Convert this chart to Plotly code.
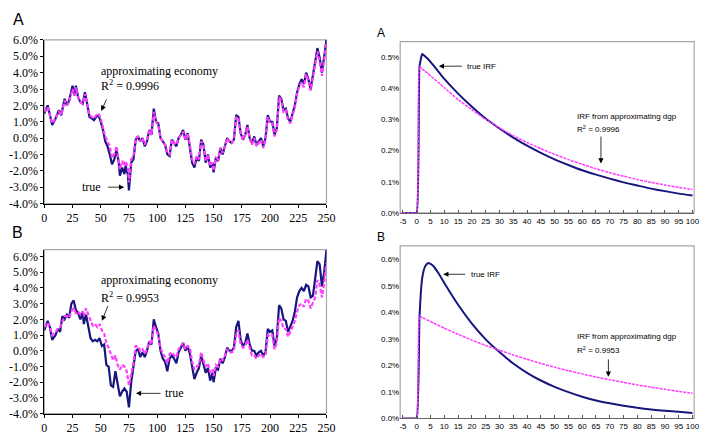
import plotly.graph_objects as go

# ---------------------------------------------------------------------------
# Simulated series (percent), panel A: true economy vs approximating economy
# ---------------------------------------------------------------------------
t_a = [0, 3, 7, 10, 13, 15, 18, 20, 22, 25,
       27, 28, 30, 32, 34, 36, 38, 40, 42, 44,
       46, 48, 50, 52, 54, 56, 58, 60, 62, 64,
       66, 67, 69, 71, 72, 74, 75, 77, 79, 81,
       83, 85, 87, 89, 91, 93, 95, 97, 99, 101,
       103, 105, 107, 109, 111, 113, 115, 117, 119, 121,
       123, 125, 127, 129, 131, 133, 135, 137, 139, 141,
       143, 145, 147, 149, 150, 152, 154, 156, 158, 160,
       162, 164, 166, 168, 170, 172, 174, 176, 178, 180,
       182, 184, 186, 188, 190, 192, 194, 196, 198, 200,
       202, 204, 206, 208, 210, 212, 214, 216, 218, 220,
       222, 224, 226, 228, 230, 232, 234, 236, 238, 240,
       242, 244, 246, 248, 250]
true_a = [1.5, 2.0, 0.8, 1.2, 1.7, 1.4, 2.4, 2.0, 2.3, 3.2,
          2.6, 3.2, 2.5, 2.2, 2.1, 2.8, 2.1, 1.3, 1.2, 1.1,
          1.3, 1.4, 1.0, 0.5, -0.2, -0.5, -1.0, -1.6, -1.3, -0.7,
          -1.5, -2.3, -1.8, -2.2, -1.7, -2.2, -3.2, -1.5, -1.3, -0.1,
          0.1, -0.2, 0.0, -0.5, -0.2, 0.5, 0.2, 1.8, 1.0, 0.9,
          0.0, -0.2, -0.4, -1.0, -1.1, -0.1, -0.3, -0.5, 0.0, 0.2,
          0.5, -0.1, 0.3, -0.5, -1.5, -1.8, -1.2, -1.4, -0.1, -0.4,
          -1.5, -1.0, -1.8, -1.5, -2.1, -1.2, -1.4, -0.6, -1.0, -0.5,
          0.0, -0.2, -0.3, -0.1, 1.4, 1.3, 0.3, -0.1, 0.2, 0.8,
          0.0, -0.3, 0.1, -0.4, -0.2, 0.0, -0.5, 0.0, 1.4, 1.0,
          1.0, 0.2, 0.6, 2.6, 2.4, 1.7, 1.8, 1.2, 1.0, 1.5,
          2.0, 2.8, 3.3, 3.6, 3.3, 4.0, 3.6, 3.0, 3.8, 4.8,
          5.5, 4.9, 4.0, 5.0, 6.0]
approx_a = [1.6, 1.9, 0.9, 1.2, 1.6, 1.4, 2.3, 2.0, 2.2, 3.0,
            2.6, 3.1, 2.5, 2.2, 2.1, 2.7, 2.1, 1.4, 1.3, 1.2,
            1.4, 1.5, 1.2, 0.7, 0.1, -0.2, -0.5, -1.2, -1.0, -0.5,
            -1.3, -1.9, -1.4, -1.7, -1.4, -1.8, -2.7, -1.3, -1.1, 0.0,
            0.1, -0.2, 0.0, -0.4, -0.1, 0.5, 0.2, 1.6, 1.0, 0.8,
            0.0, -0.2, -0.4, -0.9, -1.0, -0.1, -0.3, -0.4, 0.0, 0.2,
            0.4, -0.1, 0.3, -0.4, -1.3, -1.6, -1.1, -1.3, -0.2, -0.4,
            -1.4, -1.0, -1.7, -1.5, -2.0, -1.2, -1.3, -0.6, -0.9, -0.5,
            0.0, -0.2, -0.3, -0.1, 1.3, 1.2, 0.3, -0.1, 0.2, 0.7,
            0.0, -0.4, 0.0, -0.5, -0.3, -0.1, -0.6, -0.1, 1.3, 0.9,
            0.9, 0.1, 0.5, 2.5, 2.3, 1.6, 1.7, 1.1, 0.9, 1.4,
            1.9, 2.7, 3.2, 3.4, 3.1, 3.9, 3.5, 2.9, 3.7, 4.6,
            5.3, 4.7, 3.8, 4.8, 5.8]

# ---------------------------------------------------------------------------
# Simulated series (percent), panel B
# ---------------------------------------------------------------------------
t_b = [0, 3, 5, 7, 10, 12, 14, 16, 18, 20,
       22, 24, 26, 28, 30, 32, 34, 35, 37, 39,
       41, 43, 45, 47, 49, 51, 53, 55, 57, 59,
       61, 63, 65, 67, 69, 71, 73, 75, 77, 79,
       81, 83, 85, 87, 89, 91, 93, 95, 97, 99,
       101, 103, 105, 107, 109, 111, 113, 115, 117, 119,
       121, 123, 125, 127, 129, 131, 133, 135, 137, 139,
       141, 143, 145, 147, 149, 150, 152, 154, 156, 158,
       160, 162, 164, 166, 168, 170, 172, 174, 176, 178,
       180, 182, 184, 186, 188, 190, 192, 194, 196, 198,
       200, 202, 204, 206, 208, 210, 212, 214, 216, 218,
       220, 222, 224, 226, 228, 230, 232, 234, 236, 238,
       240, 242, 244, 246, 248, 250]
true_b = [1.3, 1.9, 1.5, 0.7, 1.0, 1.4, 1.2, 2.2, 2.0, 2.3,
          2.1, 3.0, 3.2, 2.6, 2.4, 2.0, 2.5, 1.7, 2.3, 1.5,
          0.8, 0.6, 0.7, 0.6, 0.8, 0.3, 0.4, -0.9, -1.0, -2.2,
          -2.3, -1.3, -2.2, -2.9, -2.6, -2.4, -2.6, -3.6, -2.0, -1.0,
          0.0, 0.1, -0.4, -0.1, -0.4, 0.0, 0.6, 0.4, 2.0, 1.5,
          1.1, 0.0, -0.5, -0.7, -1.3, -0.5, -0.3, -0.5, -0.8, -0.1,
          0.2, 0.5, 0.0, 0.3, -0.2, -1.1, -1.8, -1.4, -1.1, -0.3,
          -0.9, -1.4, -1.1, -1.9, -1.4, -2.0, -1.1, -1.2, -0.5, -0.8,
          -0.4, 0.2, 0.0, 0.0, 0.2, 1.5, 1.9, 0.7, 0.3, 0.5,
          1.1, 0.4, 0.0, 0.0, -0.3, -0.1, 0.0, -0.3, -0.1, 1.4,
          1.2, 1.3, 0.3, 0.8, 2.9, 2.7, 2.0, 1.9, 1.2, 1.6,
          1.9, 2.5, 3.4, 3.8, 4.0, 3.8, 4.2, 4.1, 3.4, 3.5,
          4.5, 5.7, 5.5, 4.1, 5.0, 6.4]
approx_b = [1.5, 1.8, 1.5, 1.0, 1.2, 1.4, 1.5, 1.9, 2.2, 2.2,
            2.1, 2.5, 2.7, 2.4, 2.5, 2.3, 2.5, 2.2, 2.7, 2.3,
            2.0, 1.6, 1.7, 1.5, 1.7, 1.3, 1.1, 0.5, 0.2, -0.2,
            -0.6, -0.3, -0.9, -1.2, -0.9, -1.0, -1.3, -2.2, -1.5, -0.8,
            0.3, 0.3, 0.0, 0.1, -0.2, 0.1, 0.6, 0.4, 1.6, 1.3,
            1.0, 0.2, -0.2, -0.4, -0.8, -0.2, -0.1, -0.3, -0.4, 0.1,
            0.3, 0.5, 0.1, 0.3, 0.2, -0.7, -1.2, -1.0, -0.9, -0.1,
            -0.6, -1.0, -0.8, -1.4, -1.2, -1.6, -0.9, -1.0, -0.5, -0.6,
            -0.3, 0.1, -0.1, -0.1, 0.0, 1.0, 1.3, 0.4, 0.2, 0.3,
            0.7, 0.1, -0.3, -0.3, -0.5, -0.3, -0.2, -0.4, -0.3, 1.0,
            0.9, 1.0, 0.1, 0.5, 2.1, 1.9, 1.4, 1.4, 0.9, 1.2,
            1.5, 1.9, 2.5, 2.9, 3.0, 2.8, 3.3, 3.2, 2.7, 3.0,
            3.4, 4.5, 4.2, 3.4, 4.3, 5.6]

# ---------------------------------------------------------------------------
# Impulse responses (percent) by horizon
# ---------------------------------------------------------------------------
h_irf = [-5, -4, -3, -2, -1, 0, 1, 2, 3, 4, 5, 6, 8, 10,
         15, 20, 25, 30, 35, 40, 45, 50, 55, 60, 65, 70,
         75, 80, 85, 90, 95, 100]
irf_true_a = [0, 0, 0, 0, 0, 0, 0.47, 0.51, 0.503, 0.495, 0.485, 0.474, 0.452, 0.43,
              0.383, 0.341, 0.303, 0.271, 0.242, 0.216, 0.193, 0.172, 0.154, 0.137, 0.123, 0.11,
              0.098, 0.088, 0.078, 0.07, 0.062, 0.056]
irf_approx_a = [0, 0, 0, 0, 0, 0, 0.47, 0.462, 0.455, 0.448, 0.44, 0.432, 0.418, 0.402,
                0.364, 0.331, 0.3, 0.273, 0.248, 0.226, 0.206, 0.188, 0.171, 0.156, 0.142, 0.129,
                0.118, 0.107, 0.098, 0.09, 0.082, 0.075]
irf_true_b = [0, 0, 0, 0, 0, 0, 0.38, 0.53, 0.572, 0.585, 0.582, 0.574, 0.545, 0.51,
              0.428, 0.357, 0.298, 0.25, 0.207, 0.172, 0.143, 0.119, 0.099, 0.082, 0.068, 0.057,
              0.048, 0.04, 0.034, 0.029, 0.025, 0.021]
irf_approx_b = [0, 0, 0, 0, 0, 0, 0.385, 0.38, 0.375, 0.37, 0.365, 0.36, 0.35, 0.34,
                0.317, 0.295, 0.275, 0.257, 0.239, 0.223, 0.207, 0.193, 0.18, 0.168, 0.156, 0.146,
                0.136, 0.126, 0.118, 0.11, 0.102, 0.095]

# Axis ticks
ts_ticks = list(range(0, 251, 25))
ts_yticks = [-4, -3, -2, -1, 0, 1, 2, 3, 4, 5, 6]
irf_xticks = list(range(-5, 101, 5))
irf_yticks_a = [0, 0.1, 0.2, 0.3, 0.4, 0.5]
irf_yticks_b = [0, 0.1, 0.2, 0.3, 0.4, 0.5, 0.6]

NAVY = "#16167e"
PINK = "#ff3cff"
FRAME = "#a6a6a6"
SERIF = "Liberation Serif, Times New Roman, serif"
SANS = "Liberation Sans, Arial, sans-serif"

W, H = 712, 440


def px_x(a, b):
    return [a / W, b / W]


def px_y(top, bottom):
    return [1 - bottom / H, 1 - top / H]


fig = go.Figure()

# left panels: time series
fig.add_trace(go.Scatter(x=t_a, y=true_a, mode="lines", xaxis="x", yaxis="y",
                         line=dict(color=NAVY, width=2.2)))
fig.add_trace(go.Scatter(x=t_a, y=approx_a, mode="lines", xaxis="x", yaxis="y",
                         line=dict(color=PINK, width=2.2, dash="4px,2px")))
fig.add_trace(go.Scatter(x=t_b, y=true_b, mode="lines", xaxis="x3", yaxis="y3",
                         line=dict(color=NAVY, width=2.2)))
fig.add_trace(go.Scatter(x=t_b, y=approx_b, mode="lines", xaxis="x3", yaxis="y3",
                         line=dict(color=PINK, width=2.2, dash="4px,2px")))

# right panels: impulse responses
fig.add_trace(go.Scatter(x=h_irf, y=irf_true_a, mode="lines", xaxis="x2", yaxis="y2",
                         line=dict(color=NAVY, width=2, shape="spline", smoothing=0.4)))
fig.add_trace(go.Scatter(x=h_irf, y=irf_approx_a, mode="lines", xaxis="x2", yaxis="y2",
                         line=dict(color=PINK, width=1.5, dash="3px,1px", shape="spline", smoothing=0.4)))
fig.add_trace(go.Scatter(x=h_irf, y=irf_true_b, mode="lines", xaxis="x4", yaxis="y4",
                         line=dict(color=NAVY, width=2, shape="spline", smoothing=0.4)))
fig.add_trace(go.Scatter(x=h_irf, y=irf_approx_b, mode="lines", xaxis="x4", yaxis="y4",
                         line=dict(color=PINK, width=1.5, dash="3px,1px", shape="spline", smoothing=0.4)))


def pct1(v):
    return f"{v:.1f}%".replace("\u2212", "-")


left_x = dict(range=[0, 250], tickvals=ts_ticks, ticktext=[str(v) for v in ts_ticks],
              ticks="outside", ticklen=3, tickcolor="black", showline=True, linecolor="black",
              linewidth=1, showgrid=False, zeroline=False,
              tickfont=dict(family=SERIF, size=12, color="black"), fixedrange=True)
left_y = dict(tickvals=ts_yticks, ticktext=[pct1(v) for v in ts_yticks],
              ticks="outside", ticklen=3, tickcolor="black", showline=True, linecolor="black",
              linewidth=1, showgrid=False, zeroline=False,
              tickfont=dict(family=SERIF, size=12, color="black"), fixedrange=True)
right_x = dict(range=[-6, 100.6], tickvals=irf_xticks, ticktext=[str(v) for v in irf_xticks],
               ticks="inside", ticklen=3, tickcolor="#555", showline=True, linecolor="#666",
               linewidth=1, showgrid=False, zeroline=False,
               tickfont=dict(family=SANS, size=8, color="black"), fixedrange=True)
right_y = dict(ticks="", showline=False, showgrid=False, zeroline=False,
               tickfont=dict(family=SANS, size=8, color="black"), fixedrange=True)

fig.update_layout(
    width=W, height=H, margin=dict(l=0, r=0, t=0, b=0),
    paper_bgcolor="white", plot_bgcolor="white", showlegend=False,
    xaxis=dict(left_x, domain=px_x(42, 329), anchor="y"),
    yaxis=dict(left_y, domain=px_y(34, 203), range=[-4, 6], anchor="x"),
    xaxis3=dict(left_x, domain=px_x(42, 329), anchor="y3"),
    yaxis3=dict(left_y, domain=px_y(250.7, 420), range=[-4, 6.43], anchor="x3"),
    xaxis2=dict(right_x, domain=px_x(404, 703), anchor="y2"),
    yaxis2=dict(right_y, domain=px_y(35.7, 212.7), range=[0, 0.55], anchor="x2",
                tickvals=irf_yticks_a, ticktext=[pct1(v) for v in irf_yticks_a]),
    xaxis4=dict(right_x, domain=px_x(404, 703), anchor="y4"),
    yaxis4=dict(right_y, domain=px_y(246.7, 425), range=[0, 0.65], anchor="x4",
                tickvals=irf_yticks_b, ticktext=[pct1(v) for v in irf_yticks_b]),
)

# plot-area frames
for xa, ya in [("x", "y"), ("x3", "y3"), ("x2", "y2"), ("x4", "y4")]:
    fig.add_shape(type="rect", xref=f"{xa} domain", yref=f"{ya} domain",
                  x0=0, x1=1, y0=0, y1=1, line=dict(color=FRAME, width=1.2),
                  layer="below")

ann = []


def text(x, y, s, xr, yr, size, family, xanchor="left"):
    ann.append(dict(x=x, y=y, xref=xr, yref=yr, text=s, showarrow=False,
                    xanchor=xanchor, yanchor="middle",
                    font=dict(family=family, size=size, color="black")))


def arrow(x0, y0, x1, y1, xr, yr):
    ann.append(dict(x=x1, y=y1, ax=x0, ay=y0, xref=xr, yref=yr, axref=xr, ayref=yr,
                    text="", showarrow=True, arrowhead=2, arrowsize=1.3,
                    arrowwidth=0.8, arrowcolor="black"))


# panel letters
text(8 / W, 1 - 13 / H, "A", "paper", "paper", 16, SANS)
text(7 / W, 1 - 233 / H, "B", "paper", "paper", 16, SANS)
text(378 / W, 1 - 27 / H, "A", "paper", "paper", 12, SANS)
text(378 / W, 1 - 238 / H, "B", "paper", "paper", 12, SANS)

# time-series labels, panel A
text(48.5, 4.12, "approximating economy", "x", "y", 12, SERIF)
text(48.5, 3.22, "R<sup>2</sup> = 0.9996", "x", "y", 12, SERIF)
arrow(55.7, 2.45, 50.5, 1.66, "x", "y")
text(52, -3.0, "true", "x", "y", 12, SERIF, xanchor="right")
arrow(55, -3.0, 70.8, -3.0, "x", "y")

# time-series labels, panel B
text(48.5, 4.48, "approximating economy", "x3", "y3", 12, SERIF)
text(48.5, 3.42, "R<sup>2</sup> = 0.9953", "x3", "y3", 12, SERIF)
arrow(56.9, 2.95, 51.1, 1.91, "x3", "y3")
text(105.5, -2.71, "true", "x3", "y3", 12, SERIF)
arrow(104.3, -2.71, 81.2, -2.71, "x3", "y3")

# impulse-response labels, panel A
text(17.6, 0.471, "true IRF", "x2", "y2", 8, SANS)
arrow(16.9, 0.471, 8.0, 0.471, "x2", "y2")
text(57.5, 0.311, "IRF from approximating dgp", "x2", "y2", 8, SANS)
text(57.5, 0.268, "R<sup>2</sup> = 0.9996", "x2", "y2", 8, SANS)
arrow(66.8, 0.25, 66.8, 0.159, "x2", "y2")

# impulse-response labels, panel B
text(18.8, 0.543, "true IRF", "x4", "y4", 8, SANS)
arrow(18.1, 0.543, 9.6, 0.543, "x4", "y4")
text(57.5, 0.308, "IRF from approximating dgp", "x4", "y4", 8, SANS)
text(57.5, 0.257, "R<sup>2</sup> = 0.9953", "x4", "y4", 8, SANS)
arrow(69.5, 0.228, 69.5, 0.157, "x4", "y4")

fig.update_layout(annotations=ann)

fig.write_html("out.html")
